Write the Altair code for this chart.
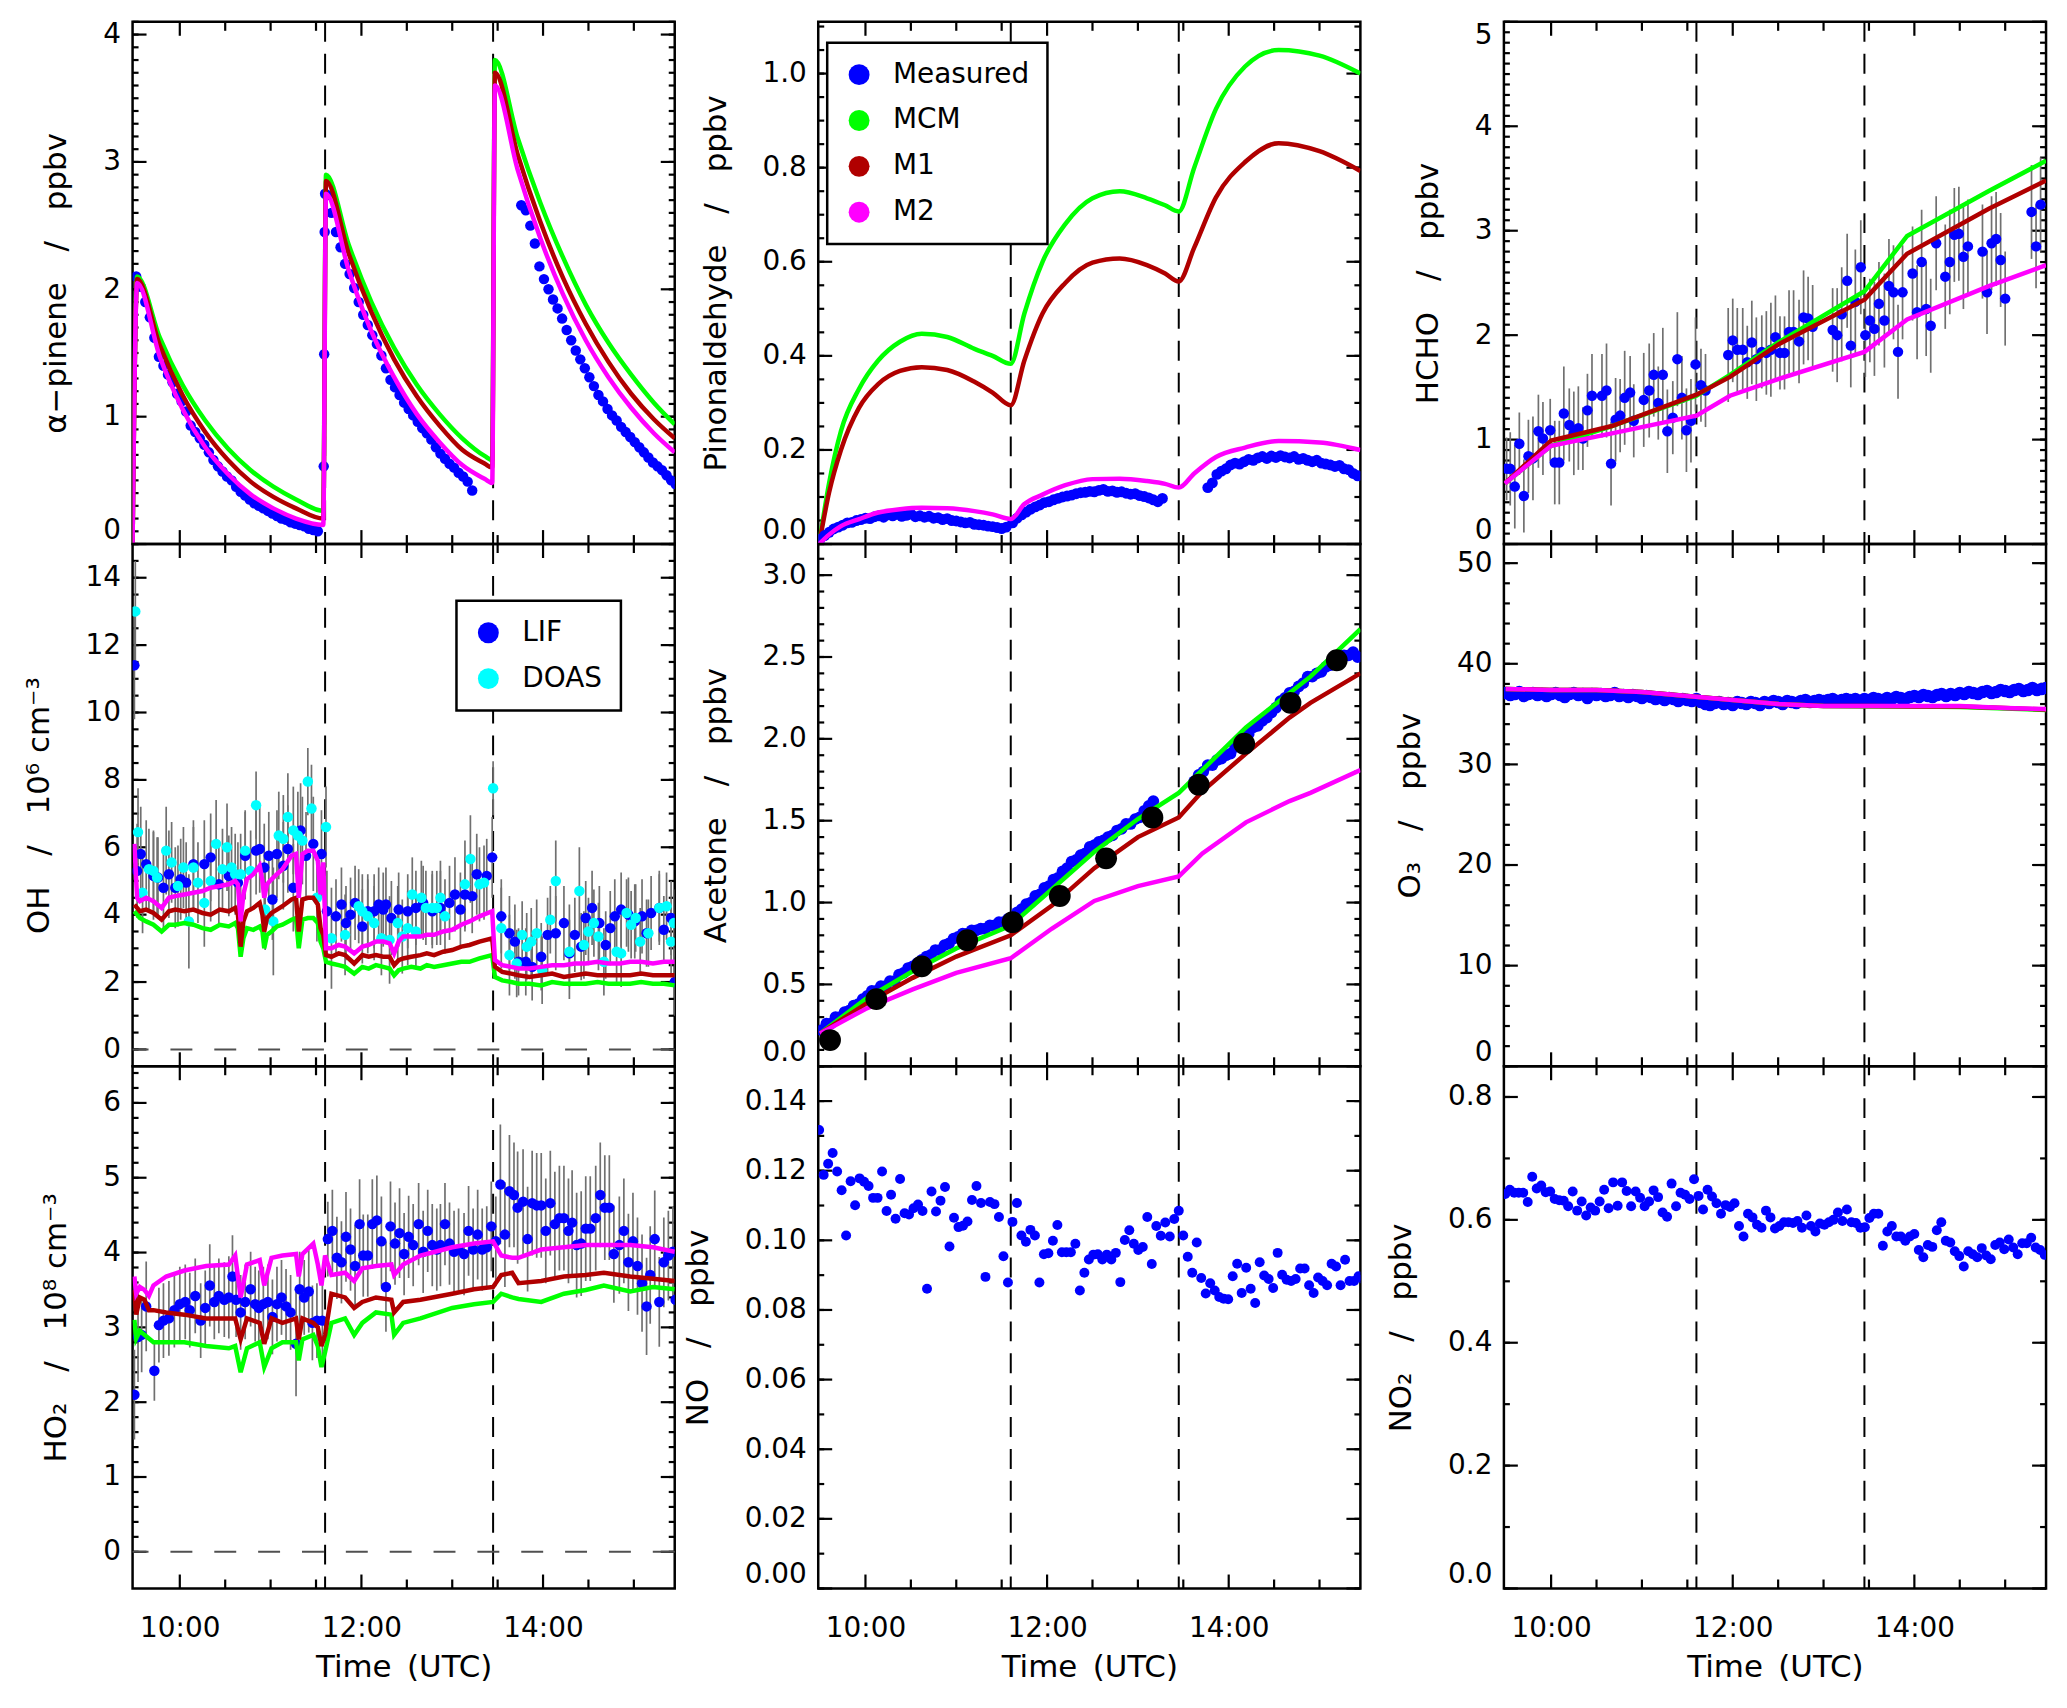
import altair as alt
import pandas as pd
import numpy as np

FONT = "DejaVu Sans"
W, H = 544, 524
T_MIN, T_MAX = 9.48, 15.45
ADD_TIMES = [11.60, 13.45]
HOURS = [10, 12, 14]
XT_MAJOR = [10, 12, 14]
XT_MINOR = [10.5, 11, 11.5, 12.5, 13, 13.5, 14.5, 15]

BLUE, GREEN, RED, MAGENTA, CYAN, GREY = "#0000ff", "#00ff00", "#b00000", "#ff00ff", "#00ffff", "#707070"
SEP = "\u2003/\u2003"

# ---------------- alpha-pinene ----------------
APIN_T = [9.48, 9.53, 9.78, 10.03, 10.28, 10.53, 10.78, 11.03, 11.28, 11.58,
          11.61, 11.86, 12.11, 12.36, 12.61, 12.86, 13.11, 13.36, 13.44,
          13.47, 13.72, 13.97, 14.22, 14.47, 14.72, 14.97, 15.22, 15.45]
APIN_MCM = [0, 2.10, 1.62, 1.25, 0.97, 0.75, 0.58, 0.45, 0.35, 0.26,
            2.90, 2.35, 1.90, 1.54, 1.25, 1.02, 0.83, 0.69, 0.66,
            3.80, 3.19, 2.68, 2.25, 1.88, 1.58, 1.33, 1.11, 0.94]
APIN_M1 = [0, 2.08, 1.56, 1.17, 0.88, 0.66, 0.49, 0.37, 0.28, 0.20,
           2.85, 2.28, 1.82, 1.45, 1.16, 0.93, 0.74, 0.63, 0.60,
           3.70, 3.06, 2.53, 2.09, 1.73, 1.43, 1.18, 0.98, 0.83]
APIN_M2 = [0, 2.05, 1.47, 1.06, 0.76, 0.55, 0.39, 0.28, 0.20, 0.15,
           2.75, 2.15, 1.67, 1.31, 1.02, 0.80, 0.62, 0.51, 0.48,
           3.60, 2.94, 2.40, 1.96, 1.60, 1.31, 1.07, 0.87, 0.72]
APIN_MEAS_1 = [2.10, 2.02, 1.90, 1.78, 1.62, 1.47, 1.40, 1.33, 1.27, 1.18,
               1.12, 1.04, 0.93, 0.88, 0.83, 0.78, 0.72, 0.66, 0.61, 0.57,
               0.53, 0.50, 0.45, 0.41, 0.38, 0.35, 0.32, 0.30, 0.28, 0.26,
               0.24, 0.22, 0.20, 0.19, 0.17, 0.16, 0.15, 0.14, 0.12, 0.11, 0.10]
APIN_RISE = [(11.585, 0.61), (11.59, 1.49), (11.595, 2.45), (11.60, 2.75)]
APIN_MEAS_2 = [2.74, 2.60, 2.45, 2.33, 2.20, 2.12, 2.01, 1.90, 1.80, 1.72,
               1.64, 1.57, 1.48, 1.38, 1.29, 1.23, 1.17, 1.11, 1.06, 1.01,
               0.96, 0.91, 0.87, 0.82, 0.76, 0.71, 0.67, 0.63, 0.60, 0.56,
               0.53, 0.49, 0.42]
APIN_MEAS_3 = [2.66, 2.62, 2.50, 2.36, 2.18, 2.08, 2.00, 1.92, 1.85, 1.77,
               1.68, 1.60, 1.52, 1.45, 1.38, 1.31, 1.24, 1.17, 1.12, 1.06,
               1.01, 0.97, 0.92, 0.88, 0.84, 0.80, 0.76, 0.72, 0.68, 0.64,
               0.61, 0.58, 0.54, 0.50, 0.47]

# ---------------- pinonaldehyde ----------------
PIN_T = [9.49, 9.60, 9.73, 9.93, 10.14, 10.38, 10.62, 10.90, 11.20, 11.40,
         11.60, 11.75, 11.95, 12.20, 12.50, 12.80, 13.10, 13.30, 13.45, 13.62,
         13.86, 14.18, 14.55, 15.00, 15.45]
PIN_MCM = [0, 0.13, 0.24, 0.33, 0.39, 0.43, 0.447, 0.44, 0.415, 0.40,
           0.383, 0.49, 0.60, 0.68, 0.735, 0.75, 0.735, 0.72, 0.707, 0.80,
           0.925, 1.015, 1.05, 1.038, 1.0]
PIN_M1 = [0, 0.11, 0.20, 0.29, 0.34, 0.368, 0.376, 0.37, 0.345, 0.322,
          0.295, 0.39, 0.49, 0.555, 0.598, 0.607, 0.593, 0.575, 0.558, 0.63,
          0.737, 0.812, 0.852, 0.835, 0.793]
PIN_M2 = [0, 0.02, 0.038, 0.053, 0.067, 0.074, 0.077, 0.076, 0.07, 0.063,
          0.053, 0.085, 0.105, 0.125, 0.138, 0.139, 0.134, 0.128, 0.12, 0.15,
          0.185, 0.205, 0.219, 0.216, 0.2]
PIN_MEAS_1 = [0.010, 0.018, 0.025, 0.032, 0.036, 0.040, 0.045, 0.046, 0.050, 0.052,
              0.055, 0.054, 0.058, 0.060, 0.057, 0.062, 0.060, 0.063, 0.059, 0.061,
              0.064, 0.058, 0.060, 0.057, 0.059, 0.055, 0.056, 0.052, 0.054, 0.050,
              0.049, 0.047, 0.045, 0.046, 0.042, 0.041, 0.040, 0.038, 0.037, 0.035,
              0.033, 0.036]
PIN_MEAS_2 = [0.045, 0.055, 0.062, 0.068, 0.074, 0.079, 0.083, 0.088, 0.090, 0.094,
              0.097, 0.100, 0.102, 0.104, 0.107, 0.109, 0.110, 0.112, 0.111, 0.114,
              0.116, 0.112, 0.113, 0.110, 0.111, 0.108, 0.106, 0.107, 0.103, 0.101,
              0.098, 0.094, 0.090, 0.097]
PIN_MEAS_3 = [0.120, 0.130, 0.148, 0.155, 0.160, 0.168, 0.172, 0.170, 0.175, 0.180,
              0.178, 0.183, 0.186, 0.182, 0.187, 0.184, 0.188, 0.185, 0.183, 0.186,
              0.180, 0.182, 0.178, 0.175, 0.178, 0.172, 0.170, 0.168, 0.165, 0.167,
              0.160, 0.158, 0.150, 0.145]

# ---------------- HCHO ----------------
HCHO_T = [9.49, 10.0, 10.67, 11.60, 11.97, 12.5, 13.45, 13.92, 14.82, 15.45]
HCHO_MCM = [0.58, 0.94, 1.13, 1.42, 1.62, 1.93, 2.42, 2.95, 3.38, 3.67]
HCHO_M1 = [0.58, 0.99, 1.13, 1.43, 1.60, 1.91, 2.34, 2.78, 3.21, 3.48]
HCHO_M2 = [0.58, 0.94, 1.06, 1.23, 1.42, 1.58, 1.84, 2.15, 2.47, 2.67]
HCHO_MEAS = [(9.51, 0.72, 0.30), (9.55, 0.72, 0.35), (9.60, 0.55, 0.40), (9.65, 0.96, 0.30), (9.70, 0.46, 0.35),
             (9.75, 0.84, 0.35), (9.80, 0.82, 0.40), (9.86, 1.08, 0.35), (9.91, 1.01, 0.35), (9.99, 1.09, 0.30),
             (10.04, 0.78, 0.40), (10.09, 0.78, 0.40), (10.14, 1.25, 0.45), (10.20, 1.14, 0.35), (10.25, 1.06, 0.40),
             (10.30, 1.11, 0.40), (10.35, 1.01, 0.30), (10.40, 1.28, 0.35), (10.45, 1.42, 0.40), (10.56, 1.42, 0.40),
             (10.61, 1.47, 0.45), (10.66, 0.77, 0.40), (10.71, 1.19, 0.40), (10.76, 1.23, 0.35), (10.81, 1.40, 0.45),
             (10.87, 1.45, 0.35), (10.91, 1.18, 0.35), (11.02, 1.38, 0.45), (11.08, 1.47, 0.45), (11.13, 1.62, 0.40),
             (11.18, 1.35, 0.35), (11.23, 1.62, 0.45), (11.28, 1.08, 0.40), (11.34, 1.21, 0.35), (11.39, 1.77, 0.45),
             (11.44, 1.40, 0.40), (11.49, 1.09, 0.40), (11.54, 1.18, 0.40), (11.59, 1.72, 0.45), (11.65, 1.52, 0.35),
             (11.70, 1.47, 0.35), (11.95, 1.81, 0.45), (12.00, 1.95, 0.40), (12.05, 1.86, 0.40), (12.11, 1.86, 0.40),
             (12.16, 1.74, 0.35), (12.21, 1.93, 0.40), (12.26, 1.77, 0.40), (12.32, 1.84, 0.35), (12.37, 1.83, 0.40),
             (12.42, 1.86, 0.45), (12.47, 1.98, 0.40), (12.52, 1.83, 0.35), (12.57, 1.83, 0.35), (12.62, 2.03, 0.40),
             (12.67, 2.03, 0.40), (12.73, 1.94, 0.40), (12.78, 2.17, 0.45), (12.83, 2.16, 0.40), (12.88, 2.08, 0.40),
             (13.10, 2.05, 0.40), (13.15, 2.00, 0.45), (13.20, 2.20, 0.45), (13.26, 2.52, 0.45), (13.30, 1.90, 0.40),
             (13.35, 2.32, 0.50), (13.41, 2.65, 0.45), (13.46, 2.00, 0.40), (13.51, 2.14, 0.40), (13.56, 2.06, 0.45),
             (13.61, 2.30, 0.40), (13.67, 2.14, 0.45), (13.72, 2.47, 0.45), (13.77, 2.41, 0.45), (13.82, 1.84, 0.45),
             (13.87, 2.41, 0.45), (13.98, 2.59, 0.45), (14.03, 2.22, 0.45), (14.08, 2.70, 0.50), (14.13, 2.25, 0.45),
             (14.18, 2.09, 0.45), (14.24, 2.88, 0.45), (14.34, 2.56, 0.50), (14.39, 2.70, 0.50), (14.44, 2.96, 0.45),
             (14.49, 2.97, 0.45), (14.54, 2.75, 0.50), (14.59, 2.85, 0.45), (14.75, 2.80, 0.45), (14.80, 2.41, 0.40),
             (14.85, 2.88, 0.45), (14.90, 2.92, 0.45), (14.95, 2.72, 0.45), (15.00, 2.35, 0.45), (15.29, 3.18, 0.45),
             (15.34, 2.85, 0.40), (15.39, 3.25, 0.45)]

# ---------------- OH ----------------
OH_T = [9.50, 9.53, 9.56, 9.63, 9.71, 9.80, 9.88, 9.95, 10.05, 10.15,
        10.25, 10.34, 10.44, 10.54, 10.61, 10.64, 10.67, 10.70, 10.74, 10.81,
        10.88, 10.91, 10.93, 10.96, 11.01, 11.07, 11.13, 11.23, 11.28, 11.31,
        11.35, 11.41, 11.47, 11.52, 11.55, 11.58, 11.61, 11.67, 11.75, 11.82,
        11.92, 12.01, 12.08, 12.16, 12.24, 12.31, 12.36, 12.41, 12.46, 12.55,
        12.65, 12.72, 12.80, 12.90, 13.00, 13.10, 13.19, 13.30, 13.44, 13.47,
        13.55, 13.65, 13.73, 13.85, 13.98, 14.10, 14.23, 14.35, 14.47, 14.60,
        14.72, 14.85, 14.96, 15.08, 15.21, 15.33, 15.45]
OH_MCM = [4.1, 4.0, 3.9, 3.8, 3.7, 3.5, 3.7, 3.7, 3.75, 3.7,
          3.6, 3.55, 3.7, 3.65, 3.75, 3.6, 2.75, 3.3, 3.6, 3.55,
          3.65, 3.5, 3.0, 3.4, 3.5, 3.65, 3.7, 3.85, 3.9, 3.0,
          3.85, 3.9, 3.9, 3.75, 3.2, 3.0, 2.6, 2.55, 2.5, 2.45,
          2.25, 2.45, 2.4, 2.5, 2.45, 2.4, 2.2, 2.35, 2.4, 2.45,
          2.4, 2.5, 2.45, 2.5, 2.55, 2.6, 2.6, 2.7, 2.8, 2.15,
          2.05, 2.0, 1.95, 1.95, 1.9, 2.0, 1.95, 1.95, 1.95, 2.0,
          1.95, 1.95, 1.95, 2.0, 1.95, 1.95, 1.9]
OH_M1 = [4.3, 4.2, 4.1, 4.15, 4.05, 3.85, 4.1, 4.15, 4.1, 4.15,
         4.05, 4.0, 4.15, 4.1, 4.2, 4.0, 3.05, 3.8, 4.1, 4.2,
         4.35, 4.0, 3.5, 3.9, 4.05, 4.15, 4.25, 4.45, 4.5, 3.5,
         4.45, 4.5, 4.5, 4.3, 3.6, 3.4, 2.8, 2.75, 2.85, 2.8,
         2.55, 2.8, 2.75, 2.8, 2.75, 2.75, 2.5, 2.65, 2.7, 2.75,
         2.8, 2.85, 2.8, 2.9, 2.95, 3.05, 3.1, 3.2, 3.3, 2.45,
         2.3, 2.25, 2.2, 2.15, 2.2, 2.25, 2.15, 2.2, 2.25, 2.2,
         2.2, 2.2, 2.2, 2.25, 2.2, 2.2, 2.2]
OH_M2 = [6.1, 4.5, 4.4, 4.5, 4.4, 4.2, 4.5, 4.55, 4.6, 4.65,
         4.7, 4.8, 4.85, 4.9, 5.0, 4.9, 3.8, 4.6, 5.05, 5.2,
         5.45, 5.0, 4.5, 4.9, 5.05, 5.2, 5.35, 5.75, 5.8, 4.5,
         5.8, 5.9, 5.9, 5.6, 4.6, 5.55, 3.0, 3.0, 3.1, 3.05,
         2.85, 3.05, 3.1, 3.2, 3.2, 3.15, 2.85, 3.2, 3.35, 3.35,
         3.35, 3.4, 3.4, 3.5, 3.55, 3.7, 3.8, 3.95, 4.1, 2.65,
         2.5, 2.45, 2.4, 2.4, 2.45, 2.5, 2.5, 2.55, 2.55, 2.6,
         2.55, 2.55, 2.6, 2.6, 2.55, 2.6, 2.6]
OH_LIF = [(9.50, 11.40, 1.6), (9.53, 5.30, 1.4), (9.57, 5.80, 1.4), (9.63, 5.50, 1.3), (9.71, 5.15, 1.3),
          (9.76, 5.10, 1.2), (9.82, 4.80, 1.2), (9.88, 5.20, 1.3), (9.95, 4.80, 1.2), (10.01, 5.05, 1.2),
          (10.07, 4.95, 1.2), (10.15, 5.50, 1.3), (10.27, 5.50, 1.3), (10.34, 5.70, 1.3), (10.43, 4.90, 1.2),
          (10.54, 5.15, 1.2), (10.64, 4.95, 1.2), (10.72, 5.75, 1.3), (10.84, 5.90, 1.3), (10.88, 5.95, 1.3),
          (10.93, 5.40, 1.3), (10.98, 5.75, 1.3), (11.02, 4.45, 1.2), (11.07, 5.80, 1.3), (11.14, 5.45, 1.3),
          (11.19, 5.95, 1.3), (11.25, 4.80, 1.3), (11.33, 6.50, 1.4), (11.39, 5.75, 1.3), (11.47, 6.10, 1.4),
          (11.56, 5.80, 1.3), (11.62, 4.10, 1.2), (11.72, 3.95, 1.1), (11.78, 4.30, 1.1), (11.83, 3.75, 1.1),
          (11.88, 4.00, 1.1), (11.93, 4.35, 1.1), (12.01, 3.65, 1.1), (12.07, 4.10, 1.1), (12.14, 4.10, 1.1),
          (12.19, 4.30, 1.1), (12.24, 4.15, 1.1), (12.27, 4.30, 1.1), (12.33, 3.90, 1.1), (12.41, 4.15, 1.1),
          (12.51, 4.10, 1.1), (12.60, 4.20, 1.1), (12.68, 4.35, 1.1), (12.78, 4.10, 1.1), (12.87, 4.20, 1.1),
          (12.97, 4.35, 1.1), (13.03, 4.60, 1.1), (13.09, 4.15, 1.1), (13.14, 4.60, 1.1), (13.22, 4.55, 1.1),
          (13.27, 5.20, 1.2), (13.38, 5.15, 1.1), (13.44, 5.70, 1.2), (13.54, 3.95, 1.1), (13.63, 3.45, 1.1),
          (13.69, 3.20, 1.1), (13.73, 2.60, 1.0), (13.81, 2.60, 1.0), (13.88, 2.45, 1.0), (13.98, 2.75, 1.0),
          (14.05, 3.40, 1.1), (14.14, 3.45, 1.1), (14.23, 3.75, 1.1), (14.29, 2.85, 1.0), (14.35, 3.40, 1.1),
          (14.42, 3.05, 1.0), (14.47, 3.90, 1.1), (14.54, 4.20, 1.1), (14.62, 3.75, 1.1), (14.69, 3.10, 1.0),
          (14.74, 3.60, 1.1), (14.79, 3.95, 1.1), (14.86, 4.15, 1.1), (14.94, 4.00, 1.1), (15.01, 3.80, 1.1),
          (15.09, 3.95, 1.1), (15.14, 3.45, 1.0), (15.19, 4.05, 1.1), (15.28, 4.20, 1.1), (15.33, 3.55, 1.0),
          (15.41, 3.90, 1.1), (15.45, 2.00, 1.0)]
OH_DOAS = [(9.51, 13.00, 1.5), (9.54, 6.45, 1.3), (9.59, 4.65, 1.2), (9.66, 5.35, 1.2), (9.71, 5.30, 1.2),
           (9.75, 5.10, 1.2), (9.85, 5.90, 1.3), (9.91, 5.55, 1.2), (9.98, 4.85, 1.2), (10.04, 5.40, 1.2),
           (10.10, 3.80, 1.4), (10.15, 5.40, 1.2), (10.20, 4.95, 1.2), (10.27, 4.35, 1.3), (10.34, 5.00, 1.2),
           (10.40, 6.10, 1.3), (10.47, 5.35, 1.2), (10.52, 6.00, 1.3), (10.57, 5.40, 1.2), (10.61, 5.20, 1.2),
           (10.67, 5.20, 1.2), (10.72, 5.90, 1.2), (10.78, 5.30, 1.2), (10.84, 7.25, 1.0), (10.94, 4.15, 1.2),
           (11.03, 3.80, 1.6), (11.09, 6.35, 1.3), (11.14, 6.25, 1.3), (11.19, 6.90, 1.3), (11.25, 6.50, 1.3),
           (11.30, 6.35, 1.3), (11.35, 6.20, 1.3), (11.41, 7.95, 1.0), (11.45, 7.15, 1.3), (11.51, 4.50, 1.3),
           (11.61, 6.60, 1.2), (11.67, 3.30, 1.5), (11.82, 3.40, 1.2), (11.97, 4.25, 1.1), (12.01, 4.10, 1.1),
           (12.07, 3.95, 1.1), (12.14, 3.75, 1.1), (12.22, 3.30, 1.1), (12.31, 3.25, 1.3), (12.40, 3.75, 1.1),
           (12.45, 3.35, 1.1), (12.51, 3.60, 1.1), (12.56, 4.60, 1.1), (12.60, 3.50, 1.1), (12.66, 4.50, 1.1),
           (12.71, 4.20, 1.1), (12.78, 4.20, 1.1), (12.83, 4.20, 1.1), (12.87, 4.50, 1.1), (12.92, 3.95, 1.1),
           (13.14, 4.90, 1.3), (13.20, 5.65, 1.3), (13.30, 4.90, 1.1), (13.35, 4.95, 1.1), (13.45, 7.75, 0.8),
           (13.54, 3.60, 1.2), (13.63, 2.80, 1.2), (13.71, 2.55, 1.0), (13.77, 3.40, 1.0), (13.82, 3.05, 1.0),
           (13.87, 3.20, 1.0), (13.93, 3.45, 1.0), (13.99, 2.35, 1.0), (14.08, 3.85, 1.0), (14.14, 5.00, 1.2),
           (14.29, 2.90, 1.4), (14.40, 4.70, 1.3), (14.45, 3.10, 1.0), (14.50, 3.50, 1.0), (14.56, 3.75, 1.0),
           (14.61, 3.35, 1.0), (14.67, 2.60, 1.0), (14.81, 2.90, 1.0), (14.86, 2.85, 1.0), (14.92, 4.05, 1.0),
           (14.97, 3.70, 1.0), (15.02, 3.90, 1.0), (15.07, 3.20, 1.0), (15.16, 3.45, 1.0), (15.28, 4.20, 1.0),
           (15.36, 4.25, 1.0), (15.41, 3.20, 1.0), (15.44, 3.75, 1.0)]

# ---------------- Acetone ----------------
ACE_T = [9.50, 10.0, 10.52, 11.0, 11.60, 12.05, 12.52, 13.0, 13.45, 13.71, 14.19, 14.67, 14.9, 15.45]
ACE_MCM = [0.2, 0.41, 0.58, 0.72, 0.86, 1.08, 1.31, 1.51, 1.67, 1.81, 2.07, 2.28, 2.38, 2.67]
ACE_M1 = [0.2, 0.38, 0.54, 0.67, 0.80, 0.98, 1.21, 1.40, 1.52, 1.68, 1.91, 2.13, 2.22, 2.40]
ACE_M2 = [0.2, 0.35, 0.47, 0.57, 0.66, 0.84, 1.01, 1.10, 1.16, 1.30, 1.49, 1.62, 1.67, 1.81]
ACE_MEAS_1 = [0.22, 0.26, 0.26, 0.30, 0.30, 0.33, 0.34, 0.37, 0.38, 0.41,
              0.43, 0.46, 0.46, 0.49, 0.49, 0.52, 0.52, 0.56, 0.57, 0.60,
              0.61, 0.63, 0.65, 0.67, 0.68, 0.71, 0.71, 0.74, 0.75, 0.78,
              0.79, 0.81, 0.81, 0.83, 0.83, 0.84, 0.84, 0.86, 0.86, 0.88,
              0.88, 0.90, 0.91, 0.94, 0.96, 0.99, 1.00, 1.04, 1.05, 1.09,
              1.10, 1.14, 1.15, 1.19, 1.21, 1.25, 1.26, 1.29, 1.30, 1.34,
              1.35, 1.37, 1.38, 1.40, 1.41, 1.44, 1.45, 1.48, 1.48, 1.51,
              1.52, 1.56, 1.59, 1.62]
ACE_MEAS_3 = [1.74, 1.78, 1.80, 1.84, 1.84, 1.87, 1.88, 1.90, 1.91, 1.95,
              1.97, 2.01, 2.03, 2.07, 2.08, 2.11, 2.13, 2.16, 2.19, 2.23,
              2.25, 2.28, 2.29, 2.32, 2.34, 2.38, 2.38, 2.40, 2.41, 2.44,
              2.45, 2.47, 2.48, 2.51, 2.51, 2.53, 2.50]
ACE_GC = [(9.61, 0.16), (10.12, 0.41), (10.62, 0.61), (11.12, 0.77), (11.62, 0.88), (12.14, 1.04),
          (12.65, 1.27), (13.16, 1.52), (13.67, 1.72), (14.17, 1.97), (14.68, 2.22), (15.19, 2.48)]

# ---------------- O3 ----------------
O3_T = [9.50, 10.0, 10.5, 11.0, 11.5, 12.0, 12.5, 13.0, 13.5, 14.0, 14.5, 15.0, 15.45]
O3_MCM = [37.5, 37.4, 37.4, 37.2, 36.8, 36.4, 36.0, 35.8, 35.75, 35.75, 35.7, 35.55, 35.4]
O3_M1 = [37.5, 37.4, 37.4, 37.2, 36.8, 36.4, 36.0, 35.8, 35.8, 35.75, 35.75, 35.6, 35.45]
O3_M2 = [37.5, 37.4, 37.4, 37.2, 36.8, 36.4, 36.0, 35.8, 35.8, 35.8, 35.8, 35.6, 35.5]
O3_MEAS = [37.1, 36.9, 37.0, 37.2, 36.8, 37.0, 37.1, 36.9, 37.0, 36.8, 37.0, 37.1, 36.9, 36.7, 37.0, 37.1, 36.9, 37.0, 36.6, 37.0,
           36.9, 37.0, 36.8, 36.9, 37.1, 36.8, 36.9, 36.7, 36.9, 36.8, 36.6, 36.8, 36.7, 36.5, 36.6, 36.4, 36.6, 36.5, 36.3, 36.5,
           36.4, 36.3, 36.5, 36.2, 36.0, 35.9, 36.1, 36.2, 36.0, 36.1, 35.9, 36.2, 36.1, 36.0, 36.2, 36.1, 35.9, 36.2, 36.1, 36.3,
           36.2, 36.0, 36.3, 36.2, 36.1, 36.3, 36.4, 36.2, 36.3, 36.4, 36.3, 36.4, 36.5, 36.3, 36.4, 36.5, 36.4, 36.5, 36.3, 36.5,
           36.4, 36.6, 36.5, 36.4, 36.6, 36.5, 36.7, 36.6, 36.5, 36.7, 36.8, 36.7, 36.9, 36.8, 36.7, 36.9, 37.0, 36.8, 37.0, 36.9,
           37.1, 37.0, 37.2, 37.1, 37.0, 37.2, 37.3, 37.1, 37.2, 37.4, 37.3, 37.2, 37.4, 37.5, 37.3, 37.4, 37.6, 37.4, 37.5, 37.6]

# ---------------- HO2 ----------------
HO2_T = [9.50, 9.52, 9.56, 9.61, 9.66, 9.71, 9.85, 10.05, 10.29, 10.54,
         10.61, 10.67, 10.74, 10.88, 10.93, 11.01, 11.13, 11.28, 11.31, 11.35,
         11.47, 11.52, 11.56, 11.60, 11.67, 11.82, 11.92, 12.01, 12.16, 12.33,
         12.36, 12.46, 12.65, 13.00, 13.24, 13.45, 13.54, 13.66, 13.73, 13.98,
         14.23, 14.47, 14.67, 14.96, 15.21, 15.45]
HO2_MCM = [3.1, 2.85, 2.95, 2.9, 2.85, 2.8, 2.8, 2.8, 2.75, 2.72,
           2.75, 2.4, 2.72, 2.8, 2.47, 2.72, 2.8, 2.8, 2.56, 2.84,
           2.9, 2.75, 2.47, 2.67, 3.06, 3.12, 2.9, 3.06, 3.2, 3.17,
           2.9, 3.06, 3.12, 3.26, 3.31, 3.34, 3.45, 3.4, 3.38, 3.34,
           3.45, 3.5, 3.56, 3.48, 3.54, 3.51]
HO2_M1 = [3.5, 3.17, 3.4, 3.37, 3.23, 3.23, 3.2, 3.17, 3.12, 3.12,
          3.12, 2.84, 3.12, 3.06, 2.78, 3.12, 3.06, 3.12, 2.84, 3.12,
          3.06, 3.0, 2.75, 2.9, 3.45, 3.4, 3.26, 3.34, 3.4, 3.37,
          3.2, 3.34, 3.37, 3.45, 3.51, 3.54, 3.7, 3.73, 3.59, 3.62,
          3.68, 3.7, 3.73, 3.68, 3.65, 3.62]
HO2_M2 = [3.68, 3.45, 3.54, 3.5, 3.42, 3.56, 3.68, 3.76, 3.82, 3.84,
          3.96, 3.4, 3.84, 3.9, 3.56, 3.93, 3.96, 3.98, 3.68, 3.98,
          4.12, 3.84, 3.56, 3.96, 3.7, 3.73, 3.62, 3.79, 3.82, 3.84,
          3.7, 3.84, 3.96, 4.07, 4.12, 4.15, 3.96, 3.93, 3.93, 4.04,
          4.07, 4.1, 4.1, 4.1, 4.07, 4.01]
HO2_MEAS = [(9.50, 2.10, 0.6), (9.54, 2.87, 0.6), (9.58, 2.90, 0.5), (9.63, 3.28, 0.6), (9.72, 2.42, 0.4),
            (9.77, 3.03, 0.5), (9.82, 3.09, 0.5), (9.88, 3.12, 0.5), (9.94, 3.23, 0.5), (10.00, 3.31, 0.5),
            (10.06, 3.34, 0.5), (10.11, 3.23, 0.5), (10.17, 3.42, 0.5), (10.23, 3.09, 0.5), (10.28, 3.26, 0.5),
            (10.33, 3.56, 0.55), (10.38, 3.34, 0.5), (10.43, 3.42, 0.5), (10.49, 3.37, 0.5), (10.54, 3.40, 0.55),
            (10.58, 3.68, 0.55), (10.62, 3.37, 0.5), (10.67, 3.20, 0.5), (10.72, 3.34, 0.5), (10.78, 3.51, 0.5),
            (10.83, 3.31, 0.5), (10.87, 3.26, 0.5), (10.92, 3.31, 0.5), (10.97, 3.34, 0.5), (11.02, 3.14, 0.5),
            (11.07, 3.31, 0.5), (11.12, 3.40, 0.5), (11.17, 3.28, 0.5), (11.22, 3.20, 0.5), (11.28, 2.78, 0.7),
            (11.32, 3.51, 0.5), (11.37, 3.40, 0.5), (11.42, 3.48, 0.55), (11.46, 3.06, 0.5), (11.51, 3.09, 0.5),
            (11.57, 3.09, 0.5), (11.63, 4.18, 0.5), (11.68, 4.29, 0.55), (11.73, 3.93, 0.55), (11.78, 3.87, 0.55),
            (11.83, 4.21, 0.6), (11.88, 4.04, 0.55), (11.93, 3.82, 0.55), (11.98, 4.38, 0.6), (12.02, 3.96, 0.55),
            (12.07, 3.96, 0.55), (12.12, 4.38, 0.6), (12.17, 4.43, 0.6), (12.22, 4.15, 0.6), (12.27, 3.54, 0.6),
            (12.32, 4.35, 0.6), (12.37, 4.12, 0.55), (12.42, 4.26, 0.6), (12.47, 3.98, 0.55), (12.52, 4.21, 0.55),
            (12.57, 4.10, 0.55), (12.63, 4.38, 0.55), (12.68, 4.01, 0.55), (12.73, 4.29, 0.55), (12.78, 4.10, 0.55),
            (12.83, 4.04, 0.55), (12.87, 4.10, 0.55), (12.92, 4.38, 0.55), (12.97, 4.12, 0.55), (13.02, 4.01, 0.55),
            (13.07, 4.04, 0.55), (13.13, 3.98, 0.55), (13.18, 4.29, 0.6), (13.23, 4.04, 0.55), (13.28, 4.24, 0.6),
            (13.33, 4.04, 0.55), (13.38, 4.07, 0.55), (13.43, 4.35, 0.6), (13.48, 4.15, 0.6), (13.53, 4.91, 0.8),
            (13.58, 4.24, 0.7), (13.63, 4.82, 0.75), (13.68, 4.77, 0.7), (13.72, 4.60, 0.75), (13.78, 4.68, 0.7),
            (13.83, 4.18, 0.7), (13.88, 4.66, 0.7), (13.93, 4.63, 0.7), (13.98, 4.63, 0.7), (14.03, 4.29, 0.7),
            (14.08, 4.66, 0.7), (14.13, 4.38, 0.7), (14.18, 4.46, 0.7), (14.23, 4.46, 0.7), (14.28, 4.29, 0.7),
            (14.32, 4.40, 0.7), (14.37, 4.10, 0.7), (14.42, 4.12, 0.7), (14.47, 4.32, 0.7), (14.52, 4.32, 0.7),
            (14.58, 4.46, 0.7), (14.63, 4.77, 0.7), (14.68, 4.60, 0.7), (14.73, 4.60, 0.7), (14.78, 3.98, 0.65),
            (14.84, 4.10, 0.65), (14.89, 4.29, 0.7), (14.94, 3.87, 0.65), (14.99, 4.15, 0.65), (15.04, 3.82, 0.65),
            (15.09, 3.59, 0.65), (15.14, 3.28, 0.65), (15.18, 3.70, 0.65), (15.23, 4.18, 0.65), (15.28, 3.34, 0.6),
            (15.33, 3.87, 0.6), (15.38, 3.96, 0.6), (15.43, 4.01, 0.6), (15.46, 3.37, 0.6)]

# ---------------- NO / NO2 ----------------
NO_T0, NO_DT = 9.49, 0.0495
NO_MEAS = [0.1317, 0.1188, 0.1220, 0.1251, 0.1198, 0.1144, 0.1014, 0.1170, 0.1101, 0.1178,
           0.1168, 0.1156, 0.1122, 0.1122, 0.1198, 0.1084, 0.1131, 0.1062, 0.1176, 0.1078,
           0.1074, 0.1092, 0.1103, 0.1084, 0.0861, 0.1140, 0.1083, 0.1114, 0.1153, 0.0982,
           0.1065, 0.1038, 0.1042, 0.1054, 0.1116, 0.1156, 0.1107, 0.0895, 0.1110, 0.1104,
           0.1067, 0.0954, 0.0879, 0.1053, 0.1107, 0.1014, 0.0996, 0.1030, 0.1014, 0.0879,
           0.0960, 0.0963, 0.0999, 0.1044, 0.0966, 0.0966, 0.0966, 0.0990, 0.0856, 0.0907,
           0.0945, 0.0959, 0.0960, 0.0945, 0.0959, 0.0945, 0.0964, 0.0880, 0.1001, 0.1029,
           0.0990, 0.0972, 0.0981, 0.1067, 0.0932, 0.1041, 0.1013, 0.1051, 0.1011, 0.1061,
           0.1085, 0.1014, 0.0953, 0.0907, 0.0994, 0.0892, 0.0847, 0.0877, 0.0856, 0.0837,
           0.0832, 0.0831, 0.0897, 0.0933, 0.0849, 0.0921, 0.0861, 0.0820, 0.0937, 0.0899,
           0.0889, 0.0863, 0.0964, 0.0901, 0.0887, 0.0883, 0.0889, 0.0919, 0.0919, 0.0871,
           0.0849, 0.0893, 0.0883, 0.0871, 0.0933, 0.0925, 0.0871, 0.0944, 0.0883, 0.0883,
           0.0897, 0.0889]
NO2_T0, NO2_DT = 9.495, 0.0495
NO2_MEAS = [0.642, 0.649, 0.644, 0.644, 0.644, 0.629, 0.670, 0.651, 0.656, 0.645,
            0.646, 0.634, 0.632, 0.631, 0.622, 0.646, 0.615, 0.630, 0.607, 0.620,
            0.615, 0.630, 0.649, 0.619, 0.661, 0.623, 0.661, 0.647, 0.622, 0.646,
            0.636, 0.622, 0.630, 0.648, 0.637, 0.612, 0.605, 0.659, 0.622, 0.644,
            0.641, 0.634, 0.666, 0.639, 0.617, 0.649, 0.638, 0.627, 0.610, 0.624,
            0.621, 0.627, 0.590, 0.573, 0.610, 0.604, 0.592, 0.587, 0.615, 0.604,
            0.586, 0.590, 0.596, 0.596, 0.595, 0.598, 0.587, 0.607, 0.590, 0.581,
            0.594, 0.592, 0.596, 0.600, 0.612, 0.598, 0.617, 0.596, 0.595, 0.587,
            0.588, 0.603, 0.610, 0.610, 0.558, 0.581, 0.590, 0.573, 0.573, 0.566,
            0.573, 0.577, 0.551, 0.539, 0.559, 0.556, 0.583, 0.596, 0.566, 0.563,
            0.549, 0.541, 0.524, 0.549, 0.544, 0.539, 0.554, 0.542, 0.536, 0.559,
            0.563, 0.552, 0.568, 0.555, 0.544, 0.562, 0.562, 0.571, 0.555, 0.551,
            0.543]

MODEL_NAMES = ["Measured", "MCM", "M1", "M2"]
MODEL_COLORS = [BLUE, GREEN, RED, MAGENTA]


# ---------------- helpers ----------------
def regular(t0, dt, vals):
    return pd.DataFrame({"t": [round(t0 + i * dt, 4) for i in range(len(vals))], "v": vals})


def series(ts, vals):
    return pd.DataFrame({"t": ts, "v": vals})


def pairs(rows):
    return pd.DataFrame(rows, columns=["t", "v"])


def triples(rows):
    df = pd.DataFrame(rows, columns=["t", "v", "e"])
    df["lo"] = df["v"] - df["e"]
    df["hi"] = df["v"] + df["e"]
    return df


def pts(df, color=BLUE, size=110):
    return lambda X, Y: alt.Chart(df).mark_circle(size=size, opacity=1, color=color, clip=True).encode(
        x=X("t"), y=Y("v"))


def line(df, color, width=4.5, interp="linear"):
    return lambda X, Y: alt.Chart(df).mark_line(color=color, strokeWidth=width, interpolate=interp,
                                                clip=True).encode(x=X("t"), y=Y("v"))


def errbars(df, color=GREY, width=1.7):
    return lambda X, Y: alt.Chart(df).mark_rule(color=color, strokeWidth=width, clip=True).encode(
        x=X("t"), y=Y("lo"), y2="hi")


def legend_pts(df, domain, colors, lx, ly, size=110):
    leg = alt.Legend(orient="none", legendX=lx, legendY=ly, title=None, labelFont=FONT,
                     labelFontSize=28, labelColor="black", symbolType="circle", symbolSize=440,
                     symbolStrokeWidth=0, symbolOpacity=1, labelOffset=20, padding=18, rowPadding=18,
                     strokeColor="black", fillColor="white")
    return lambda X, Y: alt.Chart(df).mark_circle(size=size, opacity=1, clip=True).encode(
        x=X("t"), y=Y("v"),
        color=alt.Color("src:N", scale=alt.Scale(domain=domain, range=colors), legend=leg))


def panel(layers, ydom, ymajor, yminor, ytitle, yfmt, bottom=False, zero_line=False):
    xs = alt.Scale(domain=[T_MIN, T_MAX], nice=False, zero=False)
    ys = alt.Scale(domain=ydom, nice=False, zero=False)
    if bottom:
        xax = alt.Axis(values=HOURS, labelExpr="datum.value + ':00'", title="Time\u2002(UTC)", ticks=False,
                       domain=False, grid=False, labelPadding=26, titlePadding=10, labelFlush=False)
    else:
        xax = None
    yax = alt.Axis(values=ymajor, format=yfmt, title=ytitle, ticks=False, domain=False, grid=False,
                   labelPadding=12, titlePadding=30, labelFlush=True, labelOverlap=False)

    def X(f):
        return alt.X(f"{f}:Q", scale=xs, axis=xax)

    def Y(f):
        return alt.Y(f"{f}:Q", scale=ys, axis=yax)

    parts = []
    for vals, ln in ((ymajor, 14), (yminor, 6)):
        d = pd.DataFrame({"v": vals})
        parts.append(alt.Chart(d).mark_rule(color="black", strokeWidth=2.2).encode(
            y=Y("v"), x=alt.value(0), x2=alt.value(ln)))
        parts.append(alt.Chart(d).mark_rule(color="black", strokeWidth=2.2).encode(
            y=Y("v"), x=alt.value(W), x2=alt.value(W - ln)))
    for vals, ln in ((XT_MAJOR, 14), (XT_MINOR, 9)):
        d = pd.DataFrame({"t": vals})
        parts.append(alt.Chart(d).mark_rule(color="black", strokeWidth=2.2).encode(
            x=X("t"), y=alt.value(H), y2=alt.value(H - ln)))
        parts.append(alt.Chart(d).mark_rule(color="black", strokeWidth=2.2).encode(
            x=X("t"), y=alt.value(0), y2=alt.value(ln)))
    parts.append(alt.Chart(pd.DataFrame({"t": ADD_TIMES})).mark_rule(
        color="black", strokeWidth=2, strokeDash=[20, 12]).encode(x=X("t")))
    if zero_line:
        parts.append(alt.Chart(pd.DataFrame({"v": [0]})).mark_rule(
            color="#505050", strokeWidth=2, strokeDash=[22, 22]).encode(y=Y("v")))
    for mk in layers:
        parts.append(mk(X, Y))
    return alt.layer(*parts).properties(width=W, height=H)


def minor(lo, hi, step):
    return [round(v, 5) for v in np.arange(lo, hi + step / 2, step)]


# ---------------- panels ----------------
p_apin = panel([
    pts(regular(9.52, 0.05, APIN_MEAS_1)),
    pts(pairs(APIN_RISE)),
    pts(regular(11.62, 0.05, APIN_MEAS_2)),
    pts(regular(13.76, 0.05, APIN_MEAS_3)),
    line(series(APIN_T, APIN_MCM), GREEN, interp="monotone"),
    line(series(APIN_T, APIN_M1), RED, interp="monotone"),
    line(series(APIN_T, APIN_M2), MAGENTA, interp="monotone"),
], [0, 4.1], [0, 1, 2, 3, 4], minor(0, 4.1, 0.1), "α−pinene" + SEP + "ppbv", "d")

pin_meas = pd.concat([regular(9.50, 0.05, PIN_MEAS_1), regular(11.62, 0.05, PIN_MEAS_2),
                      regular(13.77, 0.05, PIN_MEAS_3)], ignore_index=True)
pin_meas["src"] = "Measured"
p_pin = panel([
    line(series(PIN_T, PIN_MCM), GREEN, interp="monotone"),
    line(series(PIN_T, PIN_M1), RED, interp="monotone"),
    legend_pts(pin_meas, MODEL_NAMES, MODEL_COLORS, 9, 21, size=120),
    line(series(PIN_T, PIN_M2), MAGENTA, interp="monotone"),
], [0, 1.11], [0, 0.2, 0.4, 0.6, 0.8, 1.0], minor(0, 1.1, 0.05), "Pinonaldehyde" + SEP + "ppbv", ".1f")

hcho = triples(HCHO_MEAS)
p_hcho = panel([
    errbars(hcho),
    pts(hcho, size=110),
    line(series(HCHO_T, HCHO_MCM), GREEN),
    line(series(HCHO_T, HCHO_M1), RED),
    line(series(HCHO_T, HCHO_M2), MAGENTA),
], [0, 5.0], [0, 1, 2, 3, 4, 5], minor(0, 5, 0.1), "HCHO" + SEP + "ppbv", "d")

lif = triples(OH_LIF)
lif["src"] = "LIF"
doas = triples(OH_DOAS)
doas["src"] = "DOAS"
oh_all = pd.concat([lif, doas], ignore_index=True)
p_oh = panel([
    errbars(oh_all),
    legend_pts(oh_all, ["LIF", "DOAS"], [BLUE, CYAN], 325, 57, size=110),
    line(series(OH_T, OH_MCM), GREEN),
    line(series(OH_T, OH_M1), RED),
    line(series(OH_T, OH_M2), MAGENTA),
], [-0.5, 15.0], [0, 2, 4, 6, 8, 10, 12, 14], minor(0, 15, 0.5), "OH" + SEP + "10⁶ cm⁻³", "d",
    zero_line=True)

p_ace = panel([
    pts(regular(9.52, 0.05, ACE_MEAS_1), size=140),
    pts(regular(13.62, 0.05, ACE_MEAS_3), size=140),
    line(series(ACE_T, ACE_MCM), GREEN),
    line(series(ACE_T, ACE_M1), RED),
    line(series(ACE_T, ACE_M2), MAGENTA),
    pts(pairs(ACE_GC), color="black", size=480),
], [0, 3.19], [0, 0.5, 1.0, 1.5, 2.0, 2.5, 3.0], minor(0, 3.1, 0.1), "Acetone" + SEP + "ppbv", ".1f")

p_o3 = panel([
    pts(regular(9.50, 0.05, O3_MEAS), size=160),
    line(series(O3_T, O3_MCM), GREEN),
    line(series(O3_T, O3_M1), RED),
    line(series(O3_T, O3_M2), MAGENTA),
], [0, 51.9], [0, 10, 20, 30, 40, 50], minor(0, 50, 2), "O₃" + SEP + "ppbv", "d")

ho2 = triples(HO2_MEAS)
p_ho2 = panel([
    errbars(ho2),
    pts(ho2, size=110),
    line(series(HO2_T, HO2_MCM), GREEN),
    line(series(HO2_T, HO2_M1), RED),
    line(series(HO2_T, HO2_M2), MAGENTA),
], [-0.49, 6.49], [0, 1, 2, 3, 4, 5, 6], minor(0, 6.4, 0.2), "HO₂" + SEP + "10⁸ cm⁻³", "d",
    bottom=True, zero_line=True)

p_no = panel([
    pts(regular(NO_T0, NO_DT, NO_MEAS), size=100),
], [0, 0.15], [0, 0.02, 0.04, 0.06, 0.08, 0.10, 0.12, 0.14], minor(0, 0.15, 0.01), "NO" + SEP + "ppbv",
    ".2f", bottom=True)

p_no2 = panel([
    pts(regular(NO2_T0, NO2_DT, NO2_MEAS), size=100),
], [0, 0.85], [0, 0.2, 0.4, 0.6, 0.8], minor(0, 0.85, 0.1), "NO₂" + SEP + "ppbv", ".1f", bottom=True)

chart = alt.concat(
    p_apin, p_pin, p_hcho,
    p_oh, p_ace, p_o3,
    p_ho2, p_no, p_no2,
    columns=3, spacing={"row": 0, "column": 144}, bounds="flush"
).resolve_scale(
    color="independent"
).properties(
    padding={"left": 14, "top": 8, "right": 10, "bottom": 5}
).configure_view(
    stroke="black", strokeWidth=2.5
).configure_axis(
    labelFont=FONT, titleFont=FONT, labelFontSize=28, titleFontSize=31, titleFontWeight="normal",
    labelColor="black", titleColor="black"
).configure_legend(
    strokeWidth=2.5
)

chart.save("out.html", embed_options={"renderer": "svg", "actions": False})
